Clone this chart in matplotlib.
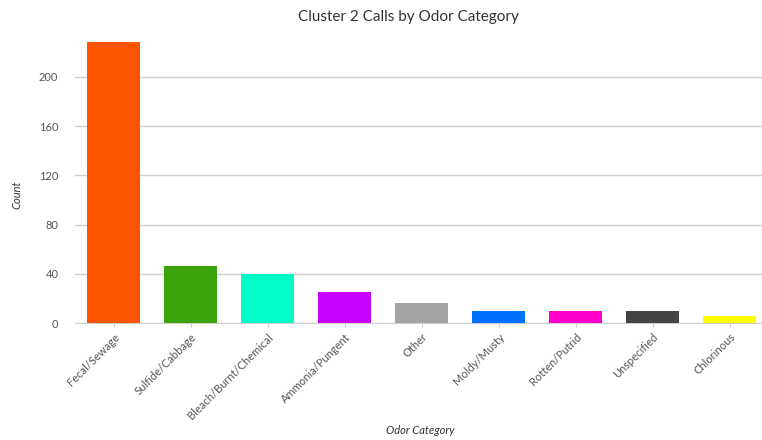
import matplotlib.pyplot as plt

# odor categories and call counts
categories = ['Fecal/Sewage', 'Sulfide/Cabbage', 'Bleach/Burnt/Chemical', 'Ammonia/Pungent',
              'Other', 'Moldy/Musty', 'Rotten/Putrid', 'Unspecified', 'Chlorinous']
counts = [228, 46, 40, 25, 16, 10, 10, 10, 6]
colors = ['#ff5500', '#3ba30a', '#00fcc8', '#c800ff', '#a3a3a3',
          '#0070ff', '#ff00cc', '#444444', '#ffff00']
yticks = [0, 40, 80, 120, 160, 200]

plt.rcParams['font.family'] = ['Lato', 'DejaVu Sans']

fig = plt.figure(figsize=(7.62, 4.40), dpi=100)
ax = fig.add_axes([75 / 762, 117 / 440, 687 / 762, 283 / 440])

x = range(len(categories))
ax.bar(x, counts, width=0.69, color=colors, zorder=3)

ax.set_xlim(-0.5, 8.42)
ax.set_ylim(0, 230)
ax.set_yticks(yticks)
ax.set_xticks(list(x))
ax.set_xticklabels(categories, rotation=45, ha='right', rotation_mode='anchor',
                   fontsize=8, color='#555555')
ax.tick_params(axis='y', length=0, pad=12, labelsize=8, labelcolor='#555555')
ax.tick_params(axis='x', length=3, color='#cccccc', pad=3)

ax.grid(axis='y', color='#cfcfcf', linewidth=1, zorder=0)
for s in ['top', 'right', 'left']:
    ax.spines[s].set_visible(False)
ax.spines['bottom'].set_color('#cfcfcf')

ax.set_title('Cluster 2 Calls by Odor Category', fontsize=11, color='#333333', pad=14, x=0.485)
fig.text(17 / 762, 195 / 440 * -1 + 1, 'Count', fontsize=8, style='italic',
         color='#333333', ha='center', va='center', rotation=90)
fig.text(420 / 762, 10 / 440, 'Odor Category', fontsize=8, style='italic',
         color='#333333', ha='center', va='center')

plt.savefig('out.png')
